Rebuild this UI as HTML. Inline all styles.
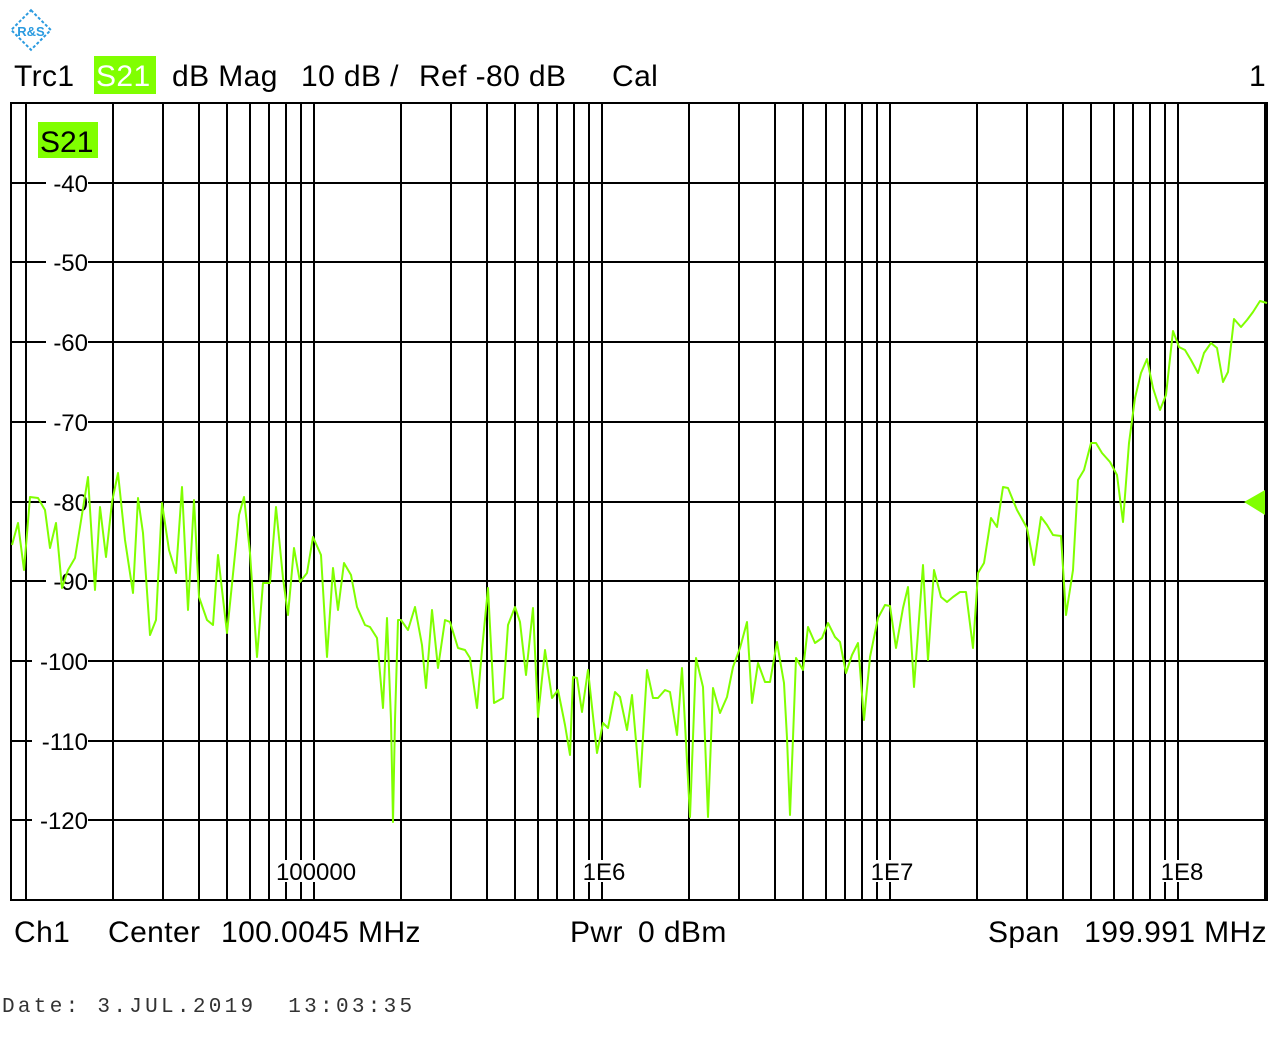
<!DOCTYPE html>
<html><head><meta charset="utf-8"><style>
body{margin:0;background:#fff;width:1278px;height:1052px;overflow:hidden;font-family:"Liberation Sans",sans-serif}
svg{position:absolute;left:0;top:0}
text{white-space:pre}
</style></head><body>
<svg width="1278" height="1052" viewBox="0 0 1278 1052" xml:space="preserve">
<g transform="translate(31,30) rotate(45)" fill="none" stroke="#2b9be0" stroke-width="2" stroke-dasharray="3,2"><rect x="-14" y="-14" width="28" height="28"/></g>
<text x="31" y="36" font-size="13" fill="#2b9be0" text-anchor="middle" font-weight="bold">R&amp;S</text>
<g font-size="30" fill="#000" letter-spacing="0.4">
<text x="14" y="86">Trc1</text>
<rect x="94" y="56" width="62" height="38" fill="#80ff00"/>
<text x="96" y="86" fill="#fff">S21</text>
<text x="172" y="86">dB Mag</text>
<text x="301" y="86">10 dB /</text>
<text x="419" y="86">Ref -80 dB</text>
<text x="612" y="86">Cal</text>
<text x="1249" y="86">1</text>
<text x="14" y="942">Ch1</text>
<text x="108" y="942">Center</text>
<text x="221" y="942">100.0045 MHz</text>
<text x="570" y="942">Pwr</text>
<text x="638" y="942">0 dBm</text>
<text x="988" y="942">Span</text>
<text x="1267" y="942" text-anchor="end">199.991 MHz</text>
</g>
<text x="2" y="1012" font-family="Liberation Mono,monospace" font-size="21" letter-spacing="3.3" fill="#333">Date: 3.JUL.2019  13:03:35</text>
<g id="grid" stroke="#000" stroke-width="2"></g>
<rect x="11" y="103" width="1256" height="797" fill="none" stroke="#000" stroke-width="2"/>
<g id="lbl" font-size="24" fill="#000"></g>
<rect x="38" y="122" width="60" height="36" fill="#80ff00"/>
<text x="40" y="152" font-size="30" fill="#000">S21</text>
<polyline id="tr" fill="none" stroke="#80ff00" stroke-width="2" stroke-linejoin="round"/>
<polygon points="1244,502 1265,490 1265,515" fill="#80ff00"/>
</svg>
<script>
var ns="http://www.w3.org/2000/svg",g=document.getElementById('grid'),L=document.getElementById('lbl');
function ln(x1,y1,x2,y2){var l=document.createElementNS(ns,'line');l.setAttribute('x1',x1);l.setAttribute('y1',y1);l.setAttribute('x2',x2);l.setAttribute('y2',y2);g.appendChild(l);}
function tx(x,y,s,a){var t=document.createElementNS(ns,'text');t.setAttribute('x',x);t.setAttribute('y',y);if(a)t.setAttribute('text-anchor',a);t.textContent=s;L.appendChild(t);}
for(var d=4;d<=8;d++)for(var m=1;m<=9;m++){var x=Math.round(26+288*(d-4)+288*Math.log10(m));if(x>11&&x<1267)ln(x,103,x,900);}
for(var i=1;i<=9;i++){var y=Math.round(103+i*79.7);ln(11,y,1267,y);}
function bg(x,y,w,h){var r=document.createElementNS(ns,'rect');r.setAttribute('x',x);r.setAttribute('y',y);r.setAttribute('width',w);r.setAttribute('height',h);r.setAttribute('fill','#fff');L.appendChild(r);}
var vals=[-40,-50,-60,-70,-80,-90,-100,-110,-120];
for(var i=0;i<9;i++){var y=Math.round(103+(i+1)*79.7);var w=(vals[i]<=-100)?56:42;bg(88-w,y-12,w,24);tx(88,y+9,String(vals[i]),'end');}
[[316,"100000"],[604,"1E6"],[892,"1E7"],[1182,"1E8"]].forEach(function(p){var w=p[1].length*13+4;bg(p[0]-w/2,860,w,22);tx(p[0],880,p[1],'middle');});
var pts=[[12,545],[18,523],[24,570],[30,497],[38,498],[45,510],[50,548],[56,523],[62,588],[68,570],[75,558],[80,527],[88,477],[95,590],[100,507],[106,557],[112,502],[118,473],[125,540],[133,593],[138,498],[143,533],[150,635],[156,620],[162,503],[169,550],[176,573],[182,487],[188,610],[194,500],[199,597],[207,620],[213,625],[218,555],[227,633],[239,515],[244,497],[250,553],[257,657],[263,583],[270,583],[276,507],[283,578],[288,615],[294,548],[300,582],[307,573],[313,537],[321,555],[327,657],[333,568],[338,610],[344,563],[351,575],[357,607],[365,625],[370,627],[377,638],[380,673],[383,708],[387,618],[391,720],[393,822],[395,720],[398,620],[401,620],[408,630],[415,607],[422,645],[426,688],[432,610],[438,668],[445,620],[450,622],[458,648],[465,650],[470,658],[477,708],[482,650],[488,588],[494,703],[503,698],[508,625],[515,607],[520,622],[526,675],[533,608],[538,717],[545,650],[552,698],[558,690],[565,725],[570,755],[573,677],[577,678],[582,712],[588,670],[597,753],[603,723],[608,728],[615,692],[620,697],[627,730],[632,695],[640,787],[647,670],[653,698],[658,698],[665,690],[670,692],[677,735],[682,668],[690,817],[696,658],[703,687],[708,817],[713,688],[720,713],[727,697],[733,667],[740,648],[747,622],[752,703],[758,663],[765,682],[770,682],[777,642],[780,660],[784,683],[787,738],[790,815],[793,738],[796,658],[803,670],[808,627],[815,643],[822,638],[828,623],[835,637],[840,642],[846,673],[852,655],[858,643],[864,720],[870,657],[878,618],[885,605],[890,606],[896,648],[903,608],[908,587],[914,687],[923,565],[928,660],[934,570],[941,597],[947,602],[953,597],[960,592],[966,592],[973,648],[978,573],[984,563],[991,518],[997,527],[1003,487],[1008,488],[1017,510],[1027,528],[1034,565],[1041,517],[1047,525],[1053,535],[1061,536],[1066,615],[1073,570],[1078,480],[1084,470],[1091,443],[1096,443],[1102,453],[1110,462],[1117,475],[1123,522],[1129,443],[1135,398],[1141,373],[1147,359],[1153,388],[1160,410],[1166,395],[1173,331],[1179,347],[1185,350],[1191,360],[1198,373],[1204,353],[1211,343],[1217,348],[1223,382],[1228,372],[1234,319],[1241,327],[1247,320],[1253,312],[1260,301],[1267,303]];
document.getElementById('tr').setAttribute('points',pts.map(function(p){return p.join(',')}).join(' '));
</script>
</body></html>
